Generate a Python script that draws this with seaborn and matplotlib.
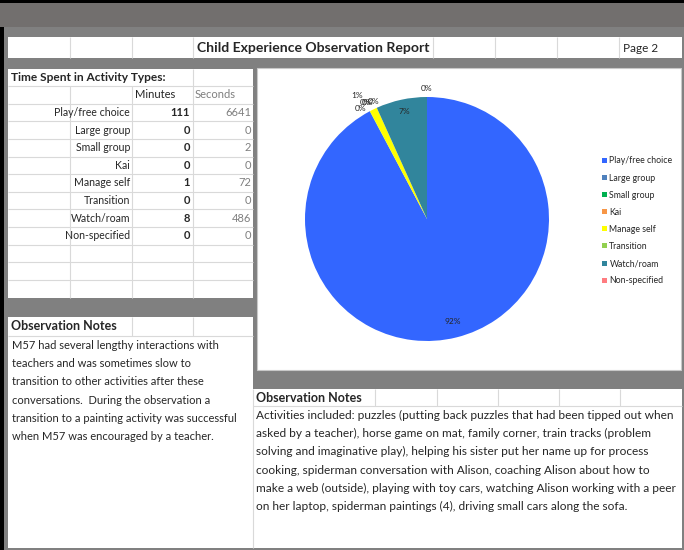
import matplotlib

matplotlib.use("Agg")
import matplotlib.pyplot as plt
import numpy as np
import seaborn as sns
from matplotlib.patches import Rectangle

W, H = 684, 550
DPI = 100

GRID = "#d9d9d9"
SHEET_BG = "#808080"
TOP_BAND = "#726f6e"
TEXT_GRAY = "#7f7f7f"

categories = [
    "Play/free choice",
    "Large group",
    "Small group",
    "Kai",
    "Manage self",
    "Transition",
    "Watch/roam",
    "Non-specified",
]
minutes = [111, 0, 0, 0, 1, 0, 8, 0]
seconds = [6641, 0, 2, 0, 72, 0, 486, 0]
slice_colors = [
    "#3366ff",
    "#4f81bd",
    "#00b050",
    "#f79646",
    "#ffff00",
    "#92d050",
    "#31859c",
    "#ff7c80",
]
# label placement per slice (Excel pushes the tiny ones outside and nudges them)
label_dist = [0.87, 1.06, 1.08, 1.07, 1.16, 1.06, 0.9, 1.07]
label_shift = [0, 3, 0, -1, 3.5, 0, 0, 0]

title = "Child Experience Observation Report"
page_label = "Page 2"
table_title = "Time Spent in Activity Types:"
notes_header = "Observation Notes"

left_notes = [
    "M57 had several lengthy interactions with",
    "teachers and was sometimes slow to",
    "transition to other activities after these",
    "conversations.  During the observation a",
    "transition to a painting activity was successful",
    "when M57 was encouraged by a teacher.",
]
right_notes = [
    "Activities included: puzzles (putting back puzzles that had been tipped out when",
    "asked by a teacher), horse game on mat, family corner, train tracks (problem",
    "solving and imaginative play), helping his sister put her name up for process",
    "cooking, spiderman conversation with Alison, coaching Alison about how to",
    "make a web (outside), playing with toy cars, watching Alison working with a peer",
    "on her laptop, spiderman paintings (4), driving small cars along the sofa.",
]

sns.set_theme(style="white")
plt.rcParams["font.family"] = ["Lato", "DejaVu Sans"]

fig = plt.figure(figsize=(W / DPI, H / DPI), dpi=DPI, facecolor=SHEET_BG)
sheet = fig.add_axes([0, 0, 1, 1])
sheet.set_xlim(0, W)
sheet.set_ylim(H, 0)
sheet.axis("off")


def box(x0, y0, x1, y1, color, edge="none"):
    sheet.add_patch(
        Rectangle((x0, y0), x1 - x0, y1 - y0, facecolor=color, edgecolor=edge, lw=0.8)
    )


# window chrome and white cell areas
box(0, 0, W, 3, "black")
box(0, 3, W, 27, TOP_BAND)
box(0, 27, 4, H, "black")
box(8, 37, 682, 58, "white")
box(8, 68.5, 253, 298, "white")
box(8, 317, 253, 548, "white")
box(257, 68, 681, 370, "white", edge="#c8c8c8")
box(253, 389, 682, 548, "white")

# title row
sheet.vlines([70, 132, 193, 433, 495, 557, 619], 37, 58, color=GRID, lw=0.8)
sheet.text(197, 48, title, fontsize=10.1, fontweight="bold", va="center")
sheet.text(623, 48.5, page_label, fontsize=8.5, va="center")

# activity table
row_top = 68.5
row_h = 17.6
row_edges = [row_top + k * row_h for k in range(1, 13)]
sheet.hlines(row_edges, 8, 253, color=GRID, lw=0.8)
sheet.vlines([70, 132], row_top + row_h, 298, color=GRID, lw=0.8)
sheet.vlines(193, row_top, 298, color=GRID, lw=0.8)

sheet.text(11, row_top + row_h / 2, table_title, fontsize=8.6, fontweight="bold", va="center")
yc = row_top + 1.5 * row_h
sheet.text(135, yc, "Minutes", fontsize=8, va="center")
sheet.text(195, yc, "Seconds", fontsize=8, va="center", color=TEXT_GRAY)

for i, (cat, mins, secs) in enumerate(zip(categories, minutes, seconds)):
    yc = row_top + (i + 2.5) * row_h
    sheet.text(130, yc, cat, fontsize=7.6, ha="right", va="center")
    sheet.text(190, yc, f"{mins}", fontsize=8, ha="right", va="center", fontweight="bold")
    sheet.text(251, yc, f"{secs}", fontsize=8, ha="right", va="center", color=TEXT_GRAY)

# left notes
sheet.hlines(336, 8, 253, color=GRID, lw=0.8)
sheet.vlines([132, 193], 317, 336, color=GRID, lw=0.8)
sheet.text(11, 326.5, notes_header, fontsize=9, fontweight="bold", va="center")
for i, line in enumerate(left_notes):
    sheet.text(12, 345.5 + i * 18.2, line, fontsize=8.05, va="center")

# right notes
sheet.hlines(406, 253, 682, color=GRID, lw=0.8)
sheet.vlines([375, 437, 498, 559, 620], 389, 406, color=GRID, lw=0.8)
sheet.vlines(253, 389, 548, color=GRID, lw=0.8)
sheet.text(256, 397.5, notes_header, fontsize=9, fontweight="bold", va="center")
for i, line in enumerate(right_notes):
    sheet.text(256, 415.5 + i * 18.2, line, fontsize=8.6, va="center")

# pie chart: centre (427, 219), radius 122 px
cx, cy, r = 427, 219, 122
pie_ax = fig.add_axes([(cx - r) / W, 1 - (cy + r) / H, 2 * r / W, 2 * r / H])
wedges, _ = pie_ax.pie(
    seconds,
    colors=slice_colors,
    startangle=90,
    counterclock=False,
    wedgeprops={"linewidth": 0},
)
pie_ax.set_xlim(-1, 1)
pie_ax.set_ylim(-1, 1)

total = sum(seconds)
for w, secs, d, shift in zip(wedges, seconds, label_dist, label_shift):
    theta = np.deg2rad((w.theta1 + w.theta2) / 2 + shift)
    pie_ax.text(
        d * np.cos(theta),
        d * np.sin(theta),
        f"{secs / total * 100:.0f}%",
        fontsize=6,
        ha="center",
        va="center",
        color="#262626",
    )

fig.legend(
    handles=wedges,
    labels=categories,
    loc="upper left",
    bbox_to_anchor=(598 / W, 1 - 152 / H),
    frameon=False,
    fontsize=6.3,
    handlelength=0.5,
    handleheight=0.5,
    handletextpad=0.3,
    labelspacing=0.93,
    borderpad=0,
    labelcolor="#262626",
)

fig.savefig("out.png", dpi=DPI, facecolor=fig.get_facecolor())
